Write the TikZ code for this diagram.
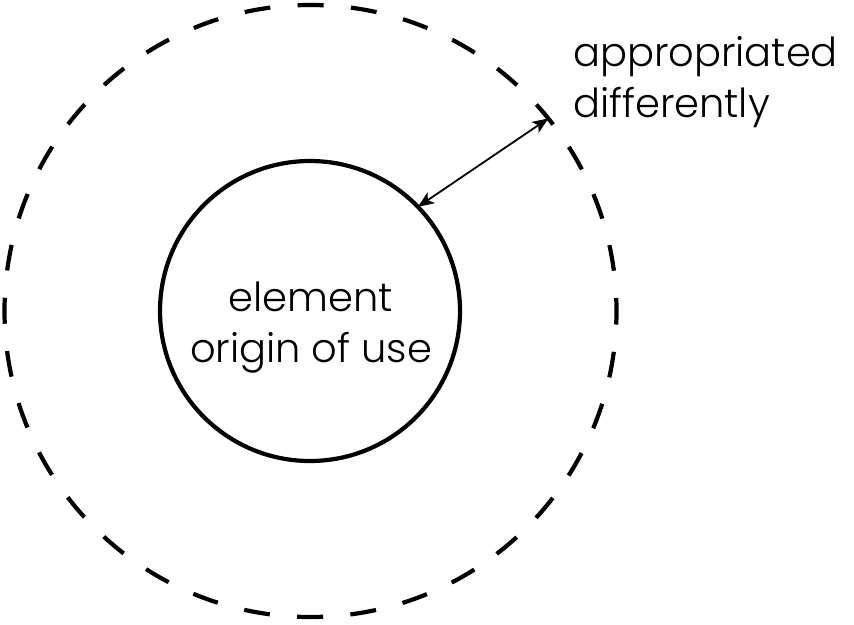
\documentclass[tikz,border=0pt]{standalone}
\usepackage{fontspec}
\setmainfont{Poppins}[UprightFont=* Light]
\usetikzlibrary{arrows.meta}
\begin{document}
\begin{tikzpicture}[x=1pt,y=-1pt,
  ring/.style={circle,draw=black,line width=4.2pt,inner sep=0pt,outer sep=0pt},
  lbl/.style={font=\fontsize{40}{51}\selectfont,inner sep=0pt,outer sep=0pt},
  conn/.style={line width=1.8pt,{Stealth[length=16pt,width=13pt,inset=4pt]}-{Stealth[length=16pt,width=13pt,inset=4pt]}}]
\useasboundingbox (0,0) rectangle (854,624);
\node[ring,minimum size=612pt,dash pattern=on 26pt off 27.4pt,dash phase=13pt] (outer) at (310.5,311) {};
\node[ring,minimum size=300pt] (inner) at (310,311) {};
\node[lbl,align=center,anchor=base] (innertext) at (311,362) {element\\origin of use};
\node[lbl,align=left,anchor=base west] (outertext) at (573,117) {appropriated\\differently};
\draw[conn] (inner.44.5) -- (outer.39.3);
\end{tikzpicture}
\end{document}
